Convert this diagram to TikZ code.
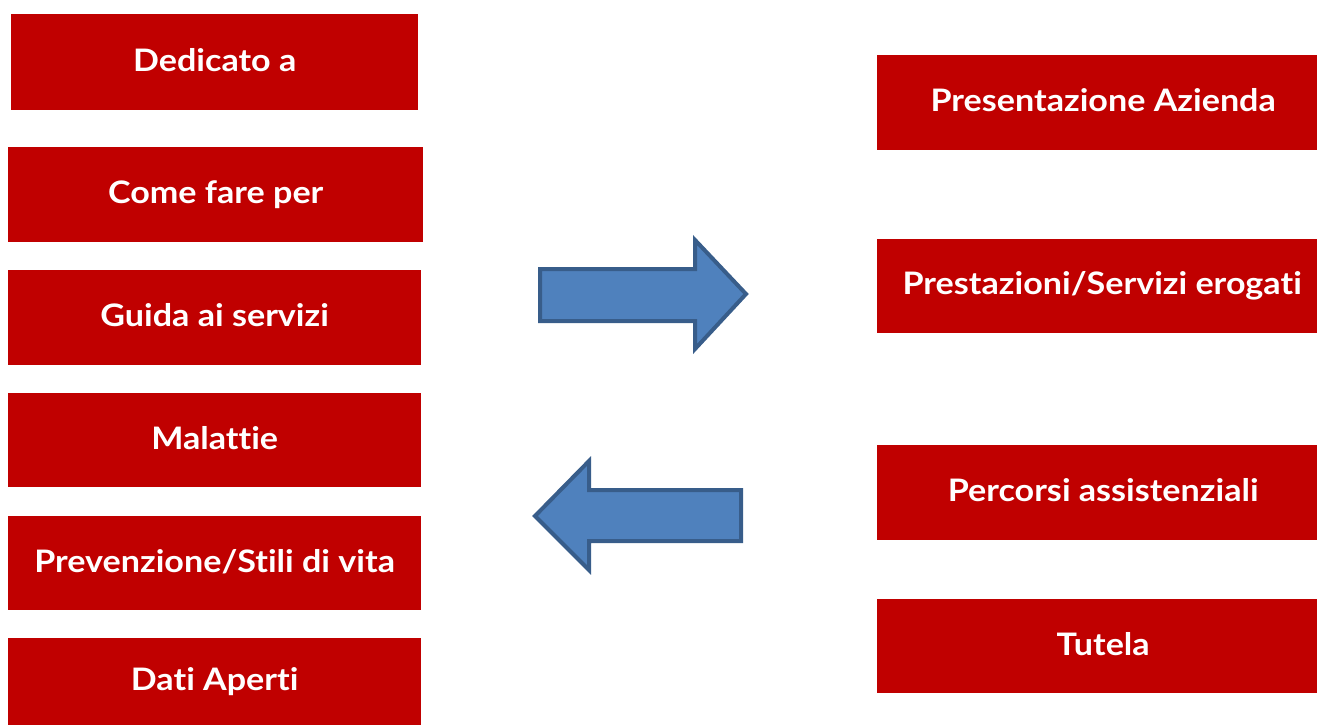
\documentclass[tikz,border=0pt]{standalone}
\usepackage{fontspec}
\setmainfont{Lato}[FakeStretch=1.1, Ligatures={NoCommon}]
\definecolor{boxred}{HTML}{C00000}
\definecolor{arrfill}{HTML}{4F81BD}
\definecolor{arrline}{HTML}{385D8A}
\newcommand{\boxtxt}[1]{\raisebox{5pt}{#1}}
\begin{document}
\begin{tikzpicture}[x=1pt,y=-1pt,
  redbox/.style={fill=boxred, draw=none, text=white, anchor=north west, inner sep=0pt,
    font=\fontsize{31}{36}\selectfont\bfseries},
  bigarrow/.style={fill=arrfill, draw=arrline, line width=4pt, line join=miter}]
\useasboundingbox (0,0) rectangle (1317,725);
% left column
\node[redbox, minimum width=407pt, minimum height=96pt] (ded) at (11,14) {\boxtxt{Dedicato a}};
\node[redbox, minimum width=415pt, minimum height=95pt] (come) at (8,147) {\boxtxt{Come fare per}};
\node[redbox, minimum width=413pt, minimum height=95pt] (guida) at (8,270) {\boxtxt{Guida ai servizi}};
\node[redbox, minimum width=413pt, minimum height=94pt] (mal) at (8,393) {\boxtxt{Malattie}};
\node[redbox, minimum width=413pt, minimum height=94pt] (prev) at (8,516) {\boxtxt{Prevenzione/Stili di vita}};
\node[redbox, minimum width=413pt, minimum height=87pt] (dati) at (8,638) {\boxtxt{Dati Aperti}};
% right column
\node[redbox, minimum width=440pt, minimum height=95pt] (pres) at (877,55) {\boxtxt{\hspace*{12pt}Presentazione Azienda}};
\node[redbox, minimum width=440pt, minimum height=94pt] (prest) at (877,239) {\boxtxt{\hspace*{10pt}Prestazioni/Servizi erogati}};
\node[redbox, minimum width=440pt, minimum height=95pt] (perc) at (877,445) {\boxtxt{\hspace*{12pt}Percorsi assistenziali}};
\node[redbox, minimum width=440pt, minimum height=94pt] (tut) at (877,599) {\boxtxt{\hspace*{12pt}Tutela}};
% arrows
\draw[bigarrow] (540,269) -- (695,269) -- (695,240) -- (746,294) -- (695,349) -- (695,321) -- (540,321) -- cycle;
\draw[bigarrow] (741,490) -- (589,490) -- (589,461) -- (535,516) -- (589,570) -- (589,541) -- (741,541) -- cycle;
\end{tikzpicture}
\end{document}
